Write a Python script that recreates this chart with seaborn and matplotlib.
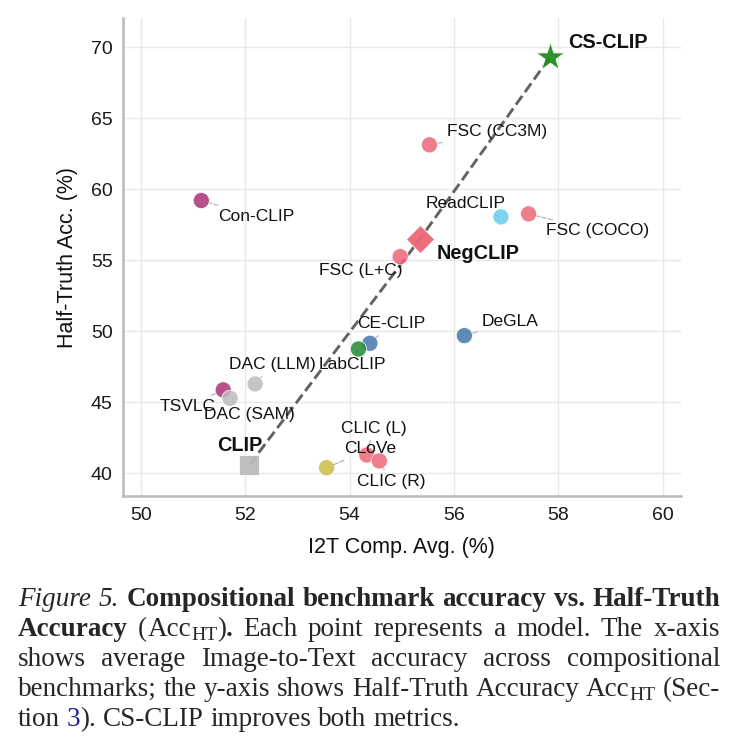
#!/usr/bin/env python
"""Half-Truth accuracy vs. compositional I2T accuracy, with the paper caption below."""
import matplotlib
matplotlib.use("Agg")
import matplotlib.pyplot as plt
import pandas as pd
import seaborn as sns

# ---- data ----
MODELS = ["Con-CLIP", "FSC (CC3M)", "FSC (COCO)", "ReadCLIP", "FSC (L+C)",
          "DeGLA", "CE-CLIP", "LabCLIP", "DAC (LLM)", "TSVLC", "DAC (SAM)",
          "CLoVe", "CLIC (L)", "CLIC (R)"]
I2T_AVG = [51.16, 55.53, 57.43, 56.90, 54.97,
           56.20, 54.39, 54.17, 52.19, 51.58, 51.71,
           53.56, 54.33, 54.57]
HT_ACC = [59.20, 63.12, 58.26, 58.05, 55.25,
          49.69, 49.15, 48.75, 46.29, 45.87, 45.28,
          40.39, 41.29, 40.87]

KEY_MODELS = ["CLIP", "NegCLIP", "CS-CLIP"]
KEY_I2T = [52.08, 55.35, 57.84]
KEY_HT = [40.58, 56.50, 69.30]

# Paul Tol "bright"
BLUE, CYAN, GREEN, YELLOW = "#4477AA", "#66CCEE", "#228833", "#CCBB44"
RED, PURPLE, GREY = "#EE6677", "#AA3377", "#BBBBBB"
COLORS = {"Con-CLIP": PURPLE, "FSC (CC3M)": RED, "FSC (COCO)": RED,
          "ReadCLIP": CYAN, "FSC (L+C)": RED, "DeGLA": BLUE, "CE-CLIP": BLUE,
          "LabCLIP": GREEN, "DAC (LLM)": GREY, "TSVLC": PURPLE,
          "DAC (SAM)": GREY, "CLoVe": YELLOW, "CLIC (L)": RED, "CLIC (R)": RED}
KEY_STYLE = {"CLIP": ("s", GREY, 190), "NegCLIP": ("D", RED, 205),
             "CS-CLIP": ("*", "#228B22", 460)}

# label centres (data coords)
LABEL_POS = {"Con-CLIP": (52.21, 58.07), "FSC (CC3M)": (56.82, 64.03),
             "FSC (COCO)": (58.75, 57.06), "ReadCLIP": (56.22, 58.99),
             "FSC (L+C)": (54.22, 54.25), "DeGLA": (57.08, 50.66),
             "CE-CLIP": (54.80, 50.51), "LabCLIP": (54.05, 47.63),
             "DAC (LLM)": (52.53, 47.63), "TSVLC": (50.89, 44.69),
             "DAC (SAM)": (52.08, 44.11), "CLoVe": (54.39, 41.71),
             "CLIC (L)": (54.46, 43.17), "CLIC (R)": (54.79, 39.41),
             "CLIP": (51.90, 41.96), "NegCLIP": (56.47, 55.44),
             "CS-CLIP": (58.95, 70.30)}
LABELS_ON_TOP = {"CLoVe"}

# caption: lines -> words -> (text, style) pieces
CAPTION = [
    [[("Figure", "it")], [("5.", "it")], [("Compositional", "b")],
     [("benchmark", "b")], [("accuracy", "b")], [("vs.", "b")], [("Half-Truth", "b")]],
    [[("Accuracy", "b")], [("(", "n"), ("Acc", "n"), ("HT", "sub"), (")", "n"), (".", "b")],
     [("Each", "n")], [("point", "n")], [("represents", "n")], [("a", "n")],
     [("model.", "n")], [("The", "n")], [("x-axis", "n")]],
    [[(w, "n")] for w in "shows average Image-to-Text accuracy across compositional".split()],
    [[(w, "n")] for w in "benchmarks; the y-axis shows Half-Truth Accuracy".split()]
    + [[("Acc", "n"), ("HT", "sub")], [("(Sec-", "n")]],
    [[("tion", "n")], [("3", "link"), (").", "n")]]
    + [[(w, "n")] for w in "CS-CLIP improves both metrics.".split()],
]

W, H, DPI = 739, 747, 100
CAP_FS = 19.5
CAP_LEFT, CAP_RIGHT = 18, 720
CAP_BASE = [606, 636, 666, 696, 726]


def draw_caption(fig):
    serif = ["Liberation Serif", "DejaVu Serif"]
    renderer = fig.canvas.get_renderer()
    for i, words in enumerate(CAPTION):
        fs = CAP_FS
        while True:
            styles = {"n": dict(fontsize=fs),
                      "b": dict(fontsize=fs, fontweight="bold"),
                      "it": dict(fontsize=fs, fontstyle="italic"),
                      "sub": dict(fontsize=fs * 0.72),
                      "link": dict(fontsize=fs, color="#1f1f8f")}
            placed = []
            for word in words:
                pieces = []
                for txt, st in word:
                    t = fig.text(0, 0, txt, family=serif, va="baseline",
                                 ha="left", **styles[st])
                    pieces.append((t, t.get_window_extent(renderer).width, st))
                placed.append(pieces)
            total = sum(w for p in placed for _, w, _ in p)
            space = (CAP_RIGHT - CAP_LEFT - total) / (len(placed) - 1)
            if space >= 4.5 or fs < 12:
                break
            for p in placed:
                for t, _, _ in p:
                    t.remove()
            fs -= 0.25
        if i == len(CAPTION) - 1:
            space = fs * DPI / 72 * 0.25
        x = CAP_LEFT
        for pieces in placed:
            for t, w, st in pieces:
                dy = 4 if st == "sub" else 0
                t.set_position((x / W, 1 - (CAP_BASE[i] + dy) / H))
                x += w
            x += space


def main():
    sns.set_theme(style="whitegrid")
    plt.rcParams["font.family"] = ["Liberation Sans", "DejaVu Sans"]

    df = pd.DataFrame({"model": MODELS, "i2t": I2T_AVG, "ht": HT_ACC})
    key = pd.DataFrame({"model": KEY_MODELS, "i2t": KEY_I2T, "ht": KEY_HT})

    fig = plt.figure(figsize=(W / DPI, H / DPI), dpi=DPI)
    ax = fig.add_axes([122.5 / W, 1 - 496 / H, (681 - 122.5) / W, (496 - 18) / H])

    sns.lineplot(data=key, x="i2t", y="ht", sort=False, color="#636363",
                 lw=2.1, linestyle="--", ax=ax, zorder=2)
    sns.scatterplot(data=df, x="i2t", y="ht", hue="model", palette=COLORS,
                    s=135, alpha=0.85, edgecolor="white", linewidth=0.6,
                    legend=False, ax=ax, zorder=3)
    for m in KEY_MODELS:
        mk, col, size = KEY_STYLE[m]
        sns.scatterplot(data=key[key["model"] == m], x="i2t", y="ht", marker=mk,
                        color=col, s=size, edgecolor="white", linewidth=0.6,
                        alpha=0.95, legend=False, ax=ax, zorder=4)

    for m, x, y in zip(MODELS, I2T_AVG, HT_ACC):
        ax.annotate(m, xy=(x, y), xytext=LABEL_POS[m], ha="center", va="center",
                    fontsize=12.5, color="#111111",
                    zorder=3.5 if m in LABELS_ON_TOP else 2.5,
                    arrowprops=dict(arrowstyle="-", color="#b5b5b5", lw=0.9,
                                    ls="--", shrinkA=1, shrinkB=5))
    for m in KEY_MODELS:
        ax.text(*LABEL_POS[m], m, ha="center", va="center", fontsize=14.3,
                fontweight="bold", color="#111111", zorder=2.5)

    ax.set_xlim(49.65, 60.35)
    ax.set_ylim(38.4, 72.05)
    ax.set_xticks([50, 52, 54, 56, 58, 60])
    ax.set_yticks([40, 45, 50, 55, 60, 65, 70])
    ax.grid(True, color="#e8e8e8", lw=1.0)
    ax.tick_params(length=0, labelsize=14, labelcolor="#1a1a1a")
    ax.tick_params(axis="x", pad=8)
    ax.tick_params(axis="y", pad=7)
    for side in ("top", "right"):
        ax.spines[side].set_visible(False)
    for side in ("left", "bottom"):
        ax.spines[side].set_color("#bbbbbb")
        ax.spines[side].set_linewidth(1.8)
    ax.set_xlabel("I2T Comp. Avg. (%)", fontsize=15.5, color="#111111", labelpad=9)
    ax.set_ylabel("Half-Truth Acc. (%)", fontsize=15.5, color="#111111", labelpad=9)

    draw_caption(fig)
    fig.savefig("out.png", dpi=DPI, facecolor="white")
    plt.close(fig)


if __name__ == "__main__":
    main()
